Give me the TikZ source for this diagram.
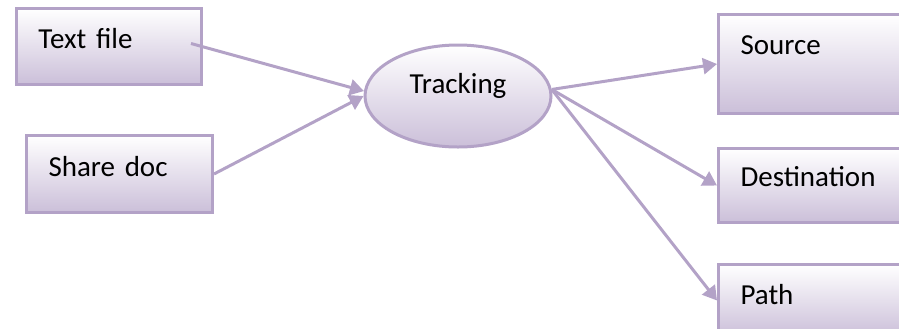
\documentclass[tikz,border=0pt]{standalone}
\usepackage{fontspec}
\setmainfont{Carlito}
\usetikzlibrary{shapes.geometric,arrows.meta}
\definecolor{lilac}{HTML}{B3A2C7}
\definecolor{lilacfill}{HTML}{CBBFD9}

\begin{document}
\begin{tikzpicture}[x=.5pt,y=-.5pt,
    every node/.style={font=\fontsize{14.5}{17}\selectfont},
    box/.style={draw=lilac, line width=1.5pt, top color=white, bottom color=lilacfill,
      anchor=north west, inner xsep=11pt, inner ysep=0pt, align=left,
      text height=20pt, text depth=#1},
    oval/.style={ellipse, draw=lilac, line width=1.5pt, top color=white, bottom color=lilacfill,
      minimum width=93pt, minimum height=51pt, inner sep=0pt, text height=10pt, text depth=13pt},
    link/.style={draw=lilac, line width=1.5pt, -{Triangle[length=7pt,width=8pt]}}]
  \useasboundingbox (0,0) rectangle (899,328);
  \clip (0,0) rectangle (899,328);

  % inputs
  \node[box=18pt, text width=70.5pt] (txt) at (15,7) {Text file};
  \node[box=18pt, text height=20.5pt, text width=71pt] (shr) at (25,134) {Share doc};

  \node[oval] (trk) at (458,96) {Tracking};

  % outputs, cut off at the right edge
  \node[box=29.5pt, text width=95pt] (src) at (717,13) {Source};
  \node[box=18pt, text height=19pt, text width=95pt] (dst) at (717,147) {Destination};
  \node[box=16pt, text width=95pt] (pth) at (717,263) {Path};

  \coordinate (txtout) at ([xshift=-6pt,yshift=1.5pt]txt.east);
  \draw[link] (txtout) -- (trk.177);
  \draw[link] (shr.east) -- (trk.west);

  \foreach \n in {src,dst,pth}
    \draw[link] (trk.4) -- (\n.west);
\end{tikzpicture}
\end{document}
